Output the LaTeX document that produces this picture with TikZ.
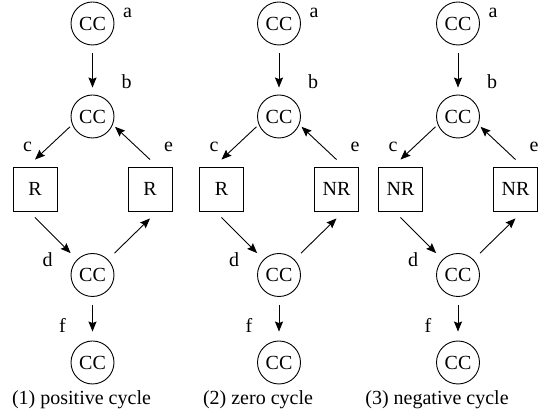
\documentclass[tikz,border=0pt]{standalone}
\usepackage{fontspec}
\setmainfont{Liberation Serif}
\usetikzlibrary{arrows.meta}
\begin{document}
\begin{tikzpicture}[x=1pt,y=-1pt,
  every node/.style={font=\fontsize{20}{24}\selectfont},
  cc/.style={draw, circle, line width=0.9pt, minimum size=43pt, inner sep=0pt},
  rbox/.style={draw, rectangle, line width=0.9pt, minimum size=44pt, inner sep=0pt},
  arr/.style={line width=0.9pt, -{Stealth[length=10pt,width=8pt,inset=1.5pt]}},
  lbl/.style={inner sep=0pt}]
\useasboundingbox (0,0) rectangle (547,411);
\foreach \i/\x/\lt/\rt/\cx/\cap in {1/92.5/R/R/81.5/{(1) positive cycle}, 2/279/R/NR/258/{(2) zero cycle}, 3/458/NR/NR/437/{(3) negative cycle}} {
  \node[cc] (a\i) at (\x,23.5) {CC};
  \node[cc] (b\i) at (\x,116.5) {CC};
  \node[rbox] (l\i) at (\x-57.5,189) {\lt};
  \node[rbox] (r\i) at (\x+57.5,189) {\rt};
  \node[cc] (d\i) at (\x,275) {CC};
  \node[cc] (f\i) at (\x,362.5) {CC};
  \node[lbl] (la\i) at (\x+35,13) {a};
  \node[lbl] (lb\i) at (\x+34,82) {b};
  \node[lbl] (lc\i) at (\x-65,147) {c};
  \node[lbl] (le\i) at (\x+76,147) {e};
  \node[lbl] (ld\i) at (\x-45,260) {d};
  \node[lbl] (lf\i) at (\x-30,325) {f};
  \node[anchor=base] (cap\i) at (\cx,405) {\cap};
  \draw[arr, shorten <=8pt, shorten >=7pt] (a\i) -- (b\i);
  \draw[arr, shorten <=3pt] (b\i.202) -- ([yshift=7pt]l\i.north);
  \draw[arr, shorten >=3pt] ([yshift=7pt]r\i.north) -- (b\i.338);
  \draw[arr, shorten >=9pt] ([yshift=-6pt]l\i.south) -- (d\i.135);
  \draw[arr, shorten <=9pt] (d\i.45) -- ([yshift=-7pt]r\i.south);
  \draw[arr, shorten <=8pt, shorten >=9pt] (d\i) -- (f\i);
}
\end{tikzpicture}
\end{document}
